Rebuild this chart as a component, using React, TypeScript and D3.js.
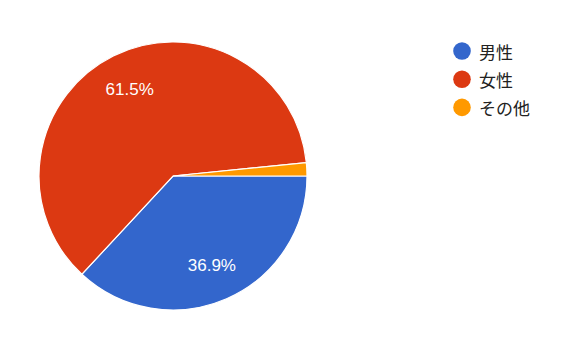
import React from "react";
import * as d3 from "d3";

const categories = ["男性", "女性", "その他"];
const values = [36.9, 61.5, 1.6];
const colors = ["#3366cc", "#dc3912", "#ff9900"];

export default function App() {
  const width = 580;
  const height = 357;
  const cx = 173;
  const cy = 176;
  const r = 134;

  const pie = d3
    .pie<number>()
    .sort(null)
    .value((d) => d)
    .startAngle(Math.PI / 2)
    .endAngle(Math.PI / 2 + 2 * Math.PI);
  const arcs = pie(values);
  const arc = d3.arc<d3.PieArcDatum<number>>().innerRadius(0).outerRadius(r);
  const labelArc = d3
    .arc<d3.PieArcDatum<number>>()
    .innerRadius(r * 0.725)
    .outerRadius(r * 0.725);
  const total = d3.sum(values);

  return (
    <svg
      width={width}
      height={height}
      style={{ position: "absolute", left: 0, top: 0, background: "#fff" }}
    >
      <g transform={`translate(${cx},${cy})`}>
        {arcs.map((a, i) => (
          <path key={i} d={arc(a) || ""} fill={colors[i]} stroke="#fff" strokeWidth={1.2} />
        ))}
        {arcs.map((a, i) => {
          const pct = (a.value / total) * 100;
          if (pct < 5) return null;
          const [x, y] = labelArc.centroid(a);
          return (
            <text
              key={i}
              x={x}
              y={y}
              textAnchor="middle"
              dominantBaseline="central"
              fill="#fff"
              fontFamily="'Liberation Sans', Arial, sans-serif"
              fontSize={17}
            >
              {pct.toFixed(1)}%
            </text>
          );
        })}
      </g>
      <g>
        {categories.map((c, i) => (
          <g key={c} transform={`translate(462,${51 + i * 28.2})`}>
            <circle r={8.8} fill={colors[i]} />
            <text
              x={17}
              y={0}
              dominantBaseline="central"
              fill="#222"
              fontFamily="'Noto Sans CJK JP', sans-serif"
              fontSize={17}
            >
              {c}
            </text>
          </g>
        ))}
      </g>
    </svg>
  );
}
